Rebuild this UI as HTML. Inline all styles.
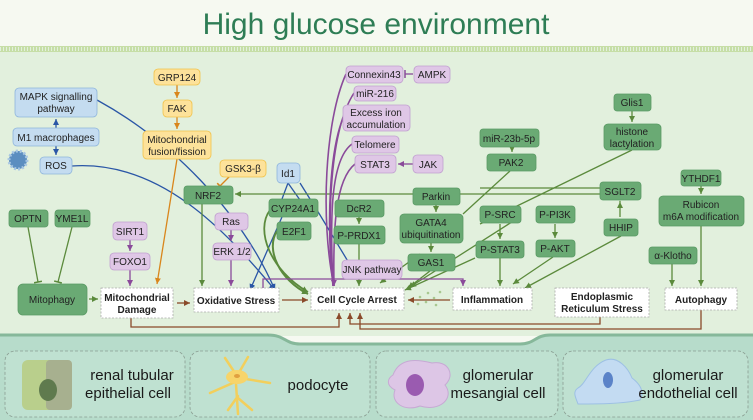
<!DOCTYPE html>
<html><head><meta charset="utf-8"><style>
html,body{margin:0;padding:0;background:#f6f9f1;}
svg{display:block;font-family:"Liberation Sans",sans-serif;}
</style></head><body>
<svg width="753" height="420" viewBox="0 0 753 420" xmlns="http://www.w3.org/2000/svg">
<defs>
<marker id="ab" markerWidth="8" markerHeight="8" refX="6" refY="3" orient="auto" markerUnits="userSpaceOnUse"><path d="M0,0 L6,3 L0,6 z" fill="#2a56a6"/></marker>
<marker id="ao" markerWidth="8" markerHeight="8" refX="6" refY="3" orient="auto" markerUnits="userSpaceOnUse"><path d="M0,0 L6,3 L0,6 z" fill="#d9861c"/></marker>
<marker id="ag" markerWidth="8" markerHeight="8" refX="6" refY="3" orient="auto" markerUnits="userSpaceOnUse"><path d="M0,0 L6,3 L0,6 z" fill="#5b8a3c"/></marker>
<marker id="ap" markerWidth="8" markerHeight="8" refX="6" refY="3" orient="auto" markerUnits="userSpaceOnUse"><path d="M0,0 L6,3 L0,6 z" fill="#8a4a9a"/></marker>
<marker id="ar" markerWidth="8" markerHeight="8" refX="6" refY="3" orient="auto" markerUnits="userSpaceOnUse"><path d="M0,0 L6,3 L0,6 z" fill="#8a4a2a"/></marker>
<marker id="tg" markerWidth="8" markerHeight="8" refX="1" refY="4" orient="auto" markerUnits="userSpaceOnUse"><path d="M1,0 L1,8" stroke="#5b8a3c" stroke-width="1.5"/></marker>
<marker id="to" markerWidth="8" markerHeight="8" refX="1" refY="4" orient="auto" markerUnits="userSpaceOnUse"><path d="M1,0 L1,8" stroke="#d9861c" stroke-width="1.5"/></marker>
<marker id="tp" markerWidth="8" markerHeight="8" refX="1" refY="4" orient="auto" markerUnits="userSpaceOnUse"><path d="M1,0 L1,8" stroke="#8a4a9a" stroke-width="1.5"/></marker>
</defs>
<rect x="0" y="0" width="753" height="46" fill="#f6f9f1"/>
<text x="376" y="34" text-anchor="middle" font-size="30" fill="#2e7d55">High glucose environment</text>
<rect x="0" y="46" width="753" height="290" fill="#e2f0dd"/>
<rect x="0" y="46" width="753" height="6" fill="#c6dea6"/>
<path d="M0,49 H753" stroke="#e2f0dd" stroke-width="4" stroke-dasharray="1 2"/>
<!-- bottom band -->
<path d="M0,335 H268 C285,335 285,344 300,344 H520 C535,344 535,335 550,335 H753 V420 H0 Z" fill="#b7dccb"/>
<path d="M0,335 H268 C285,335 285,344 300,344 H520 C535,344 535,335 550,335 H753" fill="none" stroke="#86b89a" stroke-width="3"/>
<g fill="#bfe1d1" stroke="#8a9d92" stroke-dasharray="3 2" stroke-width="0.8">
<rect x="5" y="351" width="180" height="66" rx="10"/>
<rect x="190" y="351" width="180" height="66" rx="10"/>
<rect x="376" y="351" width="182" height="66" rx="10"/>
<rect x="563" y="351" width="185" height="66" rx="10"/>
</g>
<!-- cell icons -->
<rect x="22" y="360" width="50" height="50" rx="6" fill="#b9cf8c"/>
<rect x="46" y="360" width="26" height="50" rx="4" fill="#a7b08f"/>
<ellipse cx="48" cy="390" rx="9" ry="11" fill="#5f7a4e"/>
<g stroke="#f2cf5c" stroke-width="2.5" fill="none" stroke-linecap="round">
<path d="M237,376 L225,358 M237,376 L248,357 M240,378 L270,383 M235,382 L210,393 M236,384 L238,414 M238,396 L228,410 M238,398 L252,410"/>
</g>
<ellipse cx="237" cy="377" rx="11" ry="7" fill="#f7d46a"/>
<ellipse cx="237" cy="376" rx="3" ry="2" fill="#e1a040"/>
<path d="M393,375 C400,356 420,360 432,363 C448,360 456,375 445,385 C455,398 440,412 420,406 C405,412 390,403 395,390 C385,385 388,378 393,375 Z" fill="#ddc6e6" stroke="#c7a9d4"/>
<ellipse cx="415" cy="385" rx="9" ry="11" fill="#9a5bb0"/>
<path d="M578,388 C586,384 590,366 606,360 C618,356 628,368 632,378 C640,384 645,392 640,400 C620,404 600,404 578,404 C576,398 572,392 578,388 Z" fill="#c3dbf2" stroke="#9dc0e4"/>
<ellipse cx="608" cy="380" rx="5" ry="8" fill="#5b83c8"/>
<g font-size="15" fill="#1a1a1a" text-anchor="middle">
<text x="132" y="380">renal tubular</text><text x="128" y="398">epithelial cell</text>
<text x="318" y="390">podocyte</text>
<text x="498" y="380">glomerular</text><text x="498" y="398">mesangial cell</text>
<text x="688" y="380">glomerular</text><text x="688" y="398">endothelial cell</text>
</g>

<!-- connectors -->
<g fill="none" stroke-width="1.3">
<path d="M97,100 C170,140 240,210 275,290" stroke="#2a56a6" marker-end="url(#ab)"/>
<path d="M72,166 C160,160 225,230 275,290" stroke="#2a56a6" marker-end="url(#ab)"/>
<path d="M56,128 V119" stroke="#2a56a6" marker-end="url(#ab)"/>
<path d="M56,146 V155" stroke="#2a56a6" marker-end="url(#ab)"/>
<path d="M288,183 L282,199 M288,183 L300,200 M282,217 L250,290" stroke="#2a56a6" marker-end="url(#ab)"/>
<path d="M300,183 L320,215 L358,278" stroke="#2a56a6" marker-end="url(#ab)"/>
<path d="M177,84 V98" stroke="#d9861c" marker-end="url(#ao)"/>
<path d="M177,117 V129" stroke="#d9861c" marker-end="url(#ao)"/>
<path d="M177,159 L157,284" stroke="#d9861c" marker-end="url(#ao)"/>
<path d="M230,176 L220,186" stroke="#d9861c" marker-end="url(#to)"/>
<path d="M28,227 L38,282" stroke="#5b8a3c" marker-end="url(#tg)"/>
<path d="M72,227 L58,282" stroke="#5b8a3c" marker-end="url(#tg)"/>
<path d="M89,299 H98" stroke="#5b8a3c" marker-end="url(#ag)"/>
<path d="M202,204 V286" stroke="#5b8a3c" marker-end="url(#ag)"/>
<path d="M600,194 H235" stroke="#5b8a3c" marker-end="url(#ag)"/>
<path d="M270,210 C255,230 270,270 308,292" stroke="#5b8a3c" stroke-width="1.8" marker-end="url(#ag)"/>
<path d="M277,231 C265,250 280,280 308,294" stroke="#5b8a3c" stroke-width="2" marker-end="url(#ag)"/>
<path d="M359,217 V224" stroke="#5b8a3c" marker-end="url(#ag)"/>
<path d="M359,244 V286" stroke="#5b8a3c" marker-end="url(#ag)"/>
<path d="M436,205 V212" stroke="#5b8a3c" marker-end="url(#ag)"/>
<path d="M431,243 V252" stroke="#5b8a3c" marker-end="url(#ag)"/>
<path d="M512,147 V152" stroke="#5b8a3c" marker-end="url(#ag)"/>
<path d="M510,171 L463,214" stroke="#5b8a3c"/>
<path d="M420,254 L380,283" stroke="#5b8a3c" marker-end="url(#ag)"/>
<path d="M430,271 L408,288" stroke="#5b8a3c" marker-end="url(#ag)"/>
<path d="M600,188 C560,188 520,188 480,188 M515,220 L410,287" stroke="#5b8a3c" marker-end="url(#ag)"/>
<path d="M500,224 V239" stroke="#5b8a3c" marker-end="url(#ag)"/>
<path d="M500,258 V286" stroke="#5b8a3c" marker-end="url(#ag)"/>
<path d="M475,258 L405,290" stroke="#5b8a3c" marker-end="url(#ag)"/>
<path d="M555,224 V238" stroke="#5b8a3c" marker-end="url(#ag)"/>
<path d="M553,257 L513,284" stroke="#5b8a3c" marker-end="url(#ag)"/>
<path d="M632,150 L480,224 M524,223" stroke="#5b8a3c"/>
<path d="M632,111 V122" stroke="#5b8a3c" marker-end="url(#ag)"/>
<path d="M620,201 V217 M620,217 V202" stroke="#5b8a3c" marker-end="url(#ag)" marker-start="url(#ag)"/>
<path d="M621,236 L525,288" stroke="#5b8a3c" marker-end="url(#ag)"/>
<path d="M701,186 V194" stroke="#5b8a3c" marker-end="url(#ag)"/>
<path d="M701,226 V286" stroke="#5b8a3c" marker-end="url(#ag)"/>
<path d="M672,264 V286" stroke="#5b8a3c" marker-end="url(#ag)"/>
<path d="M130,240 V251" stroke="#8a4a9a" marker-end="url(#ap)"/>
<path d="M130,270 V286" stroke="#8a4a9a" marker-end="url(#ap)"/>
<path d="M231,230 V241" stroke="#8a4a9a" marker-end="url(#ap)"/>
<path d="M231,260 V286" stroke="#8a4a9a" marker-end="url(#ap)"/>
<path d="M413,74 H405" stroke="#8a4a9a" marker-end="url(#tp)"/>
<path d="M413,164 H398" stroke="#8a4a9a" marker-end="url(#ap)"/>
<path d="M263,295 V279 H463 V286" stroke="#8a4a9a" marker-end="url(#ap)"/>
<path d="M346,74 C325,120 320,220 334,286" stroke="#8a4a9a" stroke-width="1.6"/>
<path d="M354,93 C330,130 326,220 334,286" stroke="#8a4a9a" stroke-width="1.6"/>
<path d="M343,118 C330,150 326,220 333,286" stroke="#8a4a9a" stroke-width="1.6"/>
<path d="M352,144 C330,160 330,220 333,286" stroke="#8a4a9a" stroke-width="1.6"/>
<path d="M355,164 C335,180 333,230 334,286" stroke="#8a4a9a" stroke-width="1.6" marker-end="url(#ap)"/>
<path d="M177,303 H190" stroke="#8a4a2a" marker-end="url(#ar)"/>
<path d="M282,300 H308" stroke="#8a4a2a" marker-end="url(#ar)"/>
<path d="M450,300 H408" stroke="#8a4a2a" marker-end="url(#ar)"/>
<path d="M131,318 V327 H339 V313" stroke="#8a4a2a" marker-end="url(#ar)"/>
<path d="M600,317 V324 H350 V313" stroke="#8a4a2a" marker-end="url(#ar)"/>
<path d="M701,310 V329 H360 V313" stroke="#8a4a2a" marker-end="url(#ar)"/>
</g>
<g fill="#a8c890"><circle cx="420" cy="297" r="1.3"/><circle cx="428" cy="293" r="1.3"/><circle cx="426" cy="302" r="1.3"/><circle cx="434" cy="298" r="1.3"/><circle cx="436" cy="305" r="1.3"/><circle cx="440" cy="292" r="1.3"/><circle cx="418" cy="304" r="1.3"/></g>
<circle cx="18" cy="160" r="9" fill="#5b8ec0" stroke="#a7c6e3" stroke-width="3" stroke-dasharray="2 2"/>

<!-- nodes -->
<g font-size="10" text-anchor="middle" fill="#222">
<g fill="#c4dcf0" stroke="#8fb6dc" stroke-width="0.8">
<rect x="15" y="88" width="82" height="29" rx="4"/>
<rect x="13" y="128" width="86" height="18" rx="4"/>
<rect x="40" y="157" width="32" height="17" rx="4"/>
<rect x="277" y="163" width="23" height="20" rx="4"/>
</g>
<g fill="#fde29a" stroke="#f0c24a" stroke-width="0.8">
<rect x="154" y="69" width="46" height="16" rx="4"/>
<rect x="163" y="100" width="29" height="17" rx="4"/>
<rect x="143" y="131" width="68" height="28" rx="4"/>
<rect x="220" y="160" width="46" height="17" rx="4"/>
</g>
<g fill="#dfc7e6" stroke="#c1a1d0" stroke-width="0.8">
<rect x="113" y="222" width="34" height="18" rx="4"/>
<rect x="110" y="253" width="40" height="17" rx="4"/>
<rect x="215" y="213" width="33" height="17" rx="4"/>
<rect x="213" y="243" width="38" height="17" rx="4"/>
<rect x="346" y="66" width="57" height="17" rx="4"/>
<rect x="414" y="66" width="36" height="17" rx="4"/>
<rect x="354" y="86" width="42" height="15" rx="4"/>
<rect x="343" y="105" width="67" height="26" rx="4"/>
<rect x="352" y="136" width="47" height="17" rx="4"/>
<rect x="355" y="155" width="41" height="18" rx="4"/>
<rect x="413" y="155" width="30" height="18" rx="4"/>
<rect x="342" y="260" width="60" height="19" rx="4"/>
</g>
<g fill="#6aaa74" stroke="#5a9a64" stroke-width="0.8">
<rect x="9" y="210" width="39" height="17" rx="3"/>
<rect x="55" y="210" width="35" height="17" rx="3"/>
<rect x="18" y="284" width="69" height="31" rx="5"/>
<rect x="184" y="186" width="49" height="18" rx="3"/>
<rect x="269" y="199" width="49" height="18" rx="3"/>
<rect x="277" y="222" width="34" height="18" rx="3"/>
<rect x="335" y="200" width="49" height="17" rx="3"/>
<rect x="334" y="226" width="51" height="18" rx="3"/>
<rect x="413" y="188" width="47" height="17" rx="3"/>
<rect x="400" y="214" width="63" height="29" rx="4"/>
<rect x="408" y="254" width="47" height="17" rx="3"/>
<rect x="480" y="129" width="59" height="18" rx="3"/>
<rect x="487" y="154" width="49" height="17" rx="3"/>
<rect x="480" y="206" width="41" height="17" rx="3"/>
<rect x="476" y="241" width="48" height="17" rx="3"/>
<rect x="536" y="206" width="39" height="17" rx="3"/>
<rect x="536" y="240" width="39" height="17" rx="3"/>
<rect x="614" y="94" width="37" height="17" rx="3"/>
<rect x="604" y="124" width="57" height="26" rx="4"/>
<rect x="600" y="182" width="41" height="18" rx="3"/>
<rect x="604" y="219" width="34" height="17" rx="3"/>
<rect x="681" y="170" width="40" height="16" rx="3"/>
<rect x="659" y="196" width="85" height="30" rx="4"/>
<rect x="649" y="247" width="48" height="17" rx="3"/>
</g>
<g fill="#fff" stroke="#aaa" stroke-width="0.8" stroke-dasharray="2 1.5">
<rect x="101" y="288" width="72" height="30"/>
<rect x="194" y="288" width="85" height="24"/>
<rect x="311" y="288" width="93" height="22"/>
<rect x="453" y="288" width="79" height="22"/>
<rect x="555" y="288" width="94" height="29"/>
<rect x="665" y="288" width="72" height="22"/>
</g>
<text x="56" y="100">MAPK signalling</text><text x="56" y="112">pathway</text>
<text x="56" y="141">M1 macrophages</text>
<text x="56" y="169">ROS</text>
<text x="288" y="177">Id1</text>
<text x="177" y="81">GRP124</text>
<text x="177" y="112">FAK</text>
<text x="177" y="143">Mitochondrial</text><text x="177" y="155">fusion/fission</text>
<text x="243" y="172">GSK3-β</text>
<text x="130" y="235">SIRT1</text>
<text x="130" y="265">FOXO1</text>
<text x="231" y="225">Ras</text>
<text x="232" y="255">ERK 1/2</text>
<text x="374" y="78">Connexin43</text>
<text x="432" y="78">AMPK</text>
<text x="375" y="97">miR-216</text>
<text x="376" y="116">Excess iron</text><text x="376" y="128">accumulation</text>
<text x="375" y="148">Telomere</text>
<text x="375" y="168">STAT3</text>
<text x="428" y="168">JAK</text>
<text x="372" y="273">JNK pathway</text>
<text x="28" y="222">OPTN</text>
<text x="72" y="222">YME1L</text>
<text x="52" y="303">Mitophagy</text>
<text x="208" y="199">NRF2</text>
<text x="293" y="212">CYP24A1</text>
<text x="294" y="235">E2F1</text>
<text x="359" y="212">DcR2</text>
<text x="359" y="239">P-PRDX1</text>
<text x="436" y="200">Parkin</text>
<text x="431" y="226">GATA4</text><text x="431" y="238">ubiquitination</text>
<text x="431" y="266">GAS1</text>
<text x="509" y="142">miR-23b-5p</text>
<text x="511" y="166">PAK2</text>
<text x="500" y="218">P-SRC</text>
<text x="500" y="253">P-STAT3</text>
<text x="555" y="218">P-PI3K</text>
<text x="555" y="252">P-AKT</text>
<text x="632" y="106">Glis1</text>
<text x="632" y="135">histone</text><text x="632" y="147">lactylation</text>
<text x="620" y="195">SGLT2</text>
<text x="621" y="231">HHIP</text>
<text x="701" y="182">YTHDF1</text>
<text x="701" y="208">Rubicon</text><text x="701" y="220">m6A modification</text>
<text x="673" y="259">α-Klotho</text>
<g font-weight="bold">
<text x="137" y="301">Mitochondrial</text><text x="137" y="313">Damage</text>
<text x="236" y="304">Oxidative Stress</text>
<text x="357" y="303">Cell Cycle Arrest</text>
<text x="492" y="303">Inflammation</text>
<text x="602" y="300">Endoplasmic</text><text x="602" y="312">Reticulum Stress</text>
<text x="701" y="303">Autophagy</text>
</g>
</g>
</svg>
</body></html>
